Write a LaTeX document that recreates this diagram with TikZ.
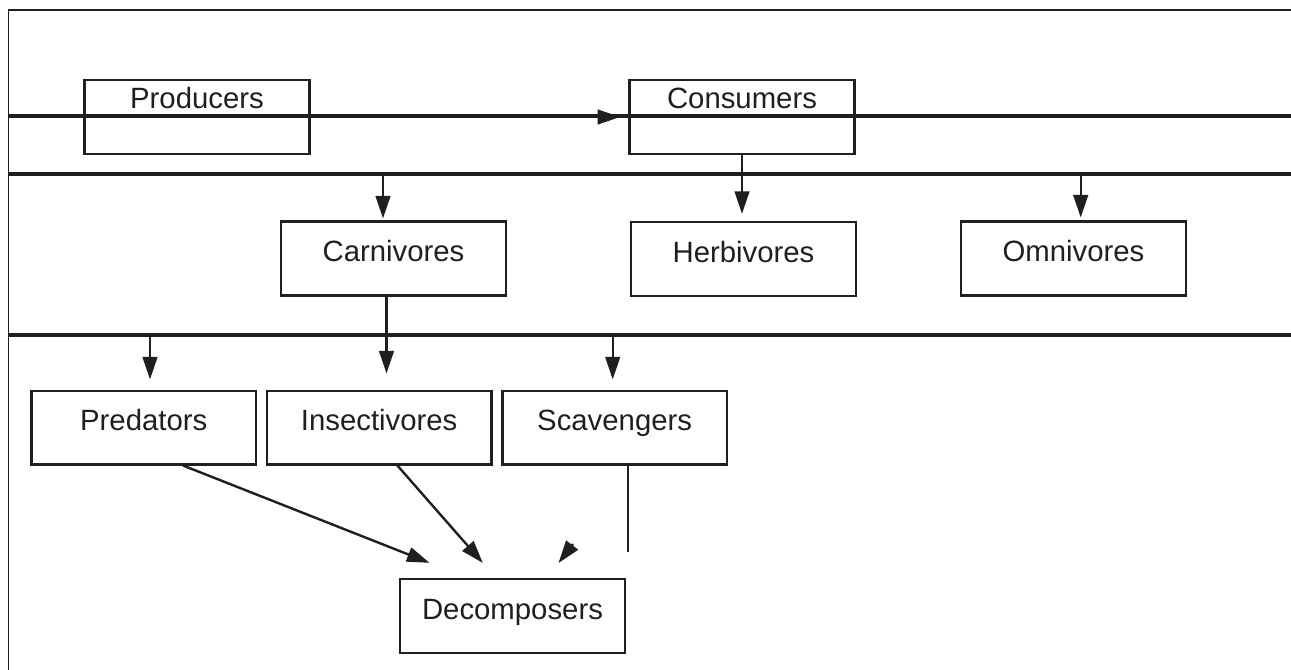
\documentclass[tikz,border=0pt]{standalone}
\usepackage{fontspec}
\setmainfont{Liberation Sans}
\usetikzlibrary{arrows.meta,positioning,calc}

\begin{document}
\begin{tikzpicture}[x=0.75pt,y=-0.75pt,>={Triangle[length=17pt,width=11pt]},
                    font=\fontsize{22}{26}\selectfont,text=black!88]
  \tikzstyle{box}=[rectangle,draw=black!88,line width=1.8pt,minimum width=168.5pt,
                   minimum height=55.2pt,inner sep=0pt,text height=14pt,text depth=9pt]
  \tikzstyle{topbox}=[box,text depth=27pt]
  \tikzstyle{lane}=[line width=2.7pt,black!88]
  \tikzstyle{link}=[->,line width=1.8pt,black!88]

  \useasboundingbox (0,0) rectangle (1291,670);

  % frame and lanes
  \draw[line width=1.2pt,black!88] (8.3,670) -- (8.3,10.3) -- (1291,10.3);
  \draw[lane] (8.3,116.3) -- (1291,116.3);
  \draw[lane] (8.3,174) -- (1291,174);
  \draw[lane] (8.3,335) -- (1291,335);

  \coordinate (toCarn) at (383,174);
  \coordinate (toOmni) at (1080.7,174);
  \coordinate (toPred) at (150,335);
  \coordinate (toScav) at (612.7,335);
  \coordinate (carnDrop) at (386.5,0);
  \coordinate (scavEnd) at (627.7,551.7);
  \coordinate (scavGap) at (573,544);

  \node[topbox] (prod) at (197,117) {Producers};
  \node[topbox] (cons) at (742,117) {Consumers};
  \node[box] (carn) at (393.5,258.5) {Carnivores};
  \node[box] (herb) at (743.5,259) {Herbivores};
  \node[box] (omni) at (1073.5,258.5) {Omnivores};
  \node[box] (pred) at (143.7,427.5) {Predators};
  \node[box] (insect) [right=6.3pt of pred] {Insectivores};
  \node[box] (scav) [right=6.3pt of insect] {Scavengers};
  \node[box] (decomp) at (512.5,616) {Decomposers};

  \draw[link,shorten >=6.2pt] (prod.east) -- (cons.west);
  \draw[link,shorten >=5.3pt] (cons.south) -- (cons.south |- herb.north);
  \draw[link,shorten >=1.5pt] (toCarn) -- (toCarn |- carn.north);
  \draw[link,shorten >=2.2pt] (toOmni) -- (toOmni |- omni.north);
  \draw[link,shorten >=12pt] (carn.south -| carnDrop) -- (insect.north -| carnDrop);
  \draw[link,shorten >=7.5pt] (toPred) -- (toPred |- pred.north);
  \draw[link,shorten >=7.5pt] (toScav) -- (toScav |- scav.north);
  \draw[link,shorten >=31pt] ($(pred.south)+(39.3,0)$) -- ($(decomp.north)+(-44.5,0)$);
  \draw[link,shorten >=15pt] ($(insect.south)+(18.2,0)$) -- ($(decomp.north)+(-16.5,0)$);
  \draw[line width=1.8pt,black!88] (scav.south -| scavEnd) -- (scavEnd);
  \draw[link,shorten >=14.1pt] (scavGap) -- ($(decomp.north)+(34.5,0)$);
\end{tikzpicture}
\end{document}
